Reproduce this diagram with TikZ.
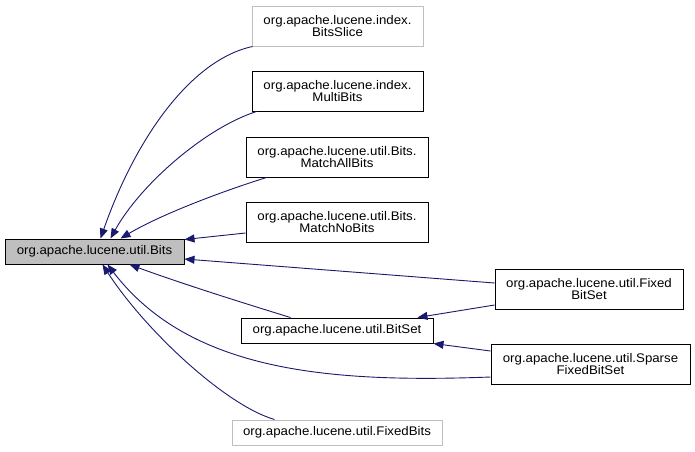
\documentclass[tikz,border=0pt]{standalone}
\usepackage{fontspec}
\setmainfont{Liberation Sans}[FakeStretch=1.06]
\usetikzlibrary{arrows.meta,calc}
\definecolor{edgecol}{HTML}{191970}
\definecolor{grayfill}{HTML}{BFBFBF}
\definecolor{graybord}{HTML}{BFBFBF}
\begin{document}
\begin{tikzpicture}[x=1pt,y=-1pt,
  box/.style={draw=black, line width=1pt, inner sep=0pt, align=center,
    font=\fontsize{12.5}{12.8}\selectfont},
  ghost/.style={box, draw=graybord},
  edge/.style={draw=edgecol, line width=0.9pt,
    -{Triangle[length=10pt,width=8pt,fill=edgecol]}}
]
\useasboundingbox (0,0) rectangle (695,451);
\fill[white] (0,0) rectangle (695,451);

\node[ghost, minimum width=171pt, minimum height=40pt] (bitsslice) at (337.5,26) {org.apache.lucene.index.\\BitsSlice};
\node[box, minimum width=171pt, minimum height=40pt] (multibits) at (337.5,91) {org.apache.lucene.index.\\MultiBits};
\node[box, minimum width=182pt, minimum height=40pt] (matchall) at (337,157) {org.apache.lucene.util.Bits.\\MatchAllBits};
\node[box, minimum width=182pt, minimum height=40pt] (matchno) at (337,222) {org.apache.lucene.util.Bits.\\MatchNoBits};
\node[box, fill=grayfill, minimum width=179pt, minimum height=25pt] (bits) at (94.5,251.5) {org.apache.lucene.util.Bits};
\node[box, minimum width=188pt, minimum height=40pt] (fixedbitset) at (589,289) {org.apache.lucene.util.Fixed\\BitSet};
\node[box, minimum width=192pt, minimum height=25pt] (bitset) at (337,330.5) {org.apache.lucene.util.BitSet};
\node[box, minimum width=199pt, minimum height=40pt] (sparse) at (590.5,364) {org.apache.lucene.util.Sparse\\FixedBitSet};
\node[ghost, minimum width=210pt, minimum height=25pt] (fixedbits) at (337,432.5) {org.apache.lucene.util.FixedBits};

\draw[edge] ($(bitsslice.south west)+(1,0)$) .. controls (190,60) and (135,140) .. ($(bits.north west)+(96,0)$);
\draw[edge] ($(multibits.south west)+(5,0)$) .. controls (205,128) and (140,185) .. ($(bits.north west)+(106,0)$);
\draw[edge] ($(matchall.south west)+(21,0)$) .. controls (220,192) and (160,215) .. ($(bits.north west)+(116,0)$);
\draw[edge] ($(matchno.west)+(0,11)$) -- ($(bits.north east)+(0,1)$);
\draw[edge] ($(fixedbitset.west)+(0,-6)$) -- ($(bits.east)+(0,7.5)$);
\draw[edge] ($(bitset.north west)+(50,0)$) .. controls (240,302) and (180,283) .. ($(bits.south west)+(125,0)$);
\draw[edge] ($(sparse.west)+(0,13)$) .. controls (330,383) and (190,372) .. ($(bits.south west)+(103,0)$);
\draw[edge] ($(fixedbits.north west)+(43,0)$) .. controls (225,405) and (145,330) .. ($(bits.south west)+(98,0)$);
\draw[edge] ($(fixedbitset.west)+(0,16)$) -- ($(bitset.north east)+(-16,0)$);
\draw[edge] ($(sparse.west)+(0,-13)$) -- (bitset.south east);
\end{tikzpicture}
\end{document}
